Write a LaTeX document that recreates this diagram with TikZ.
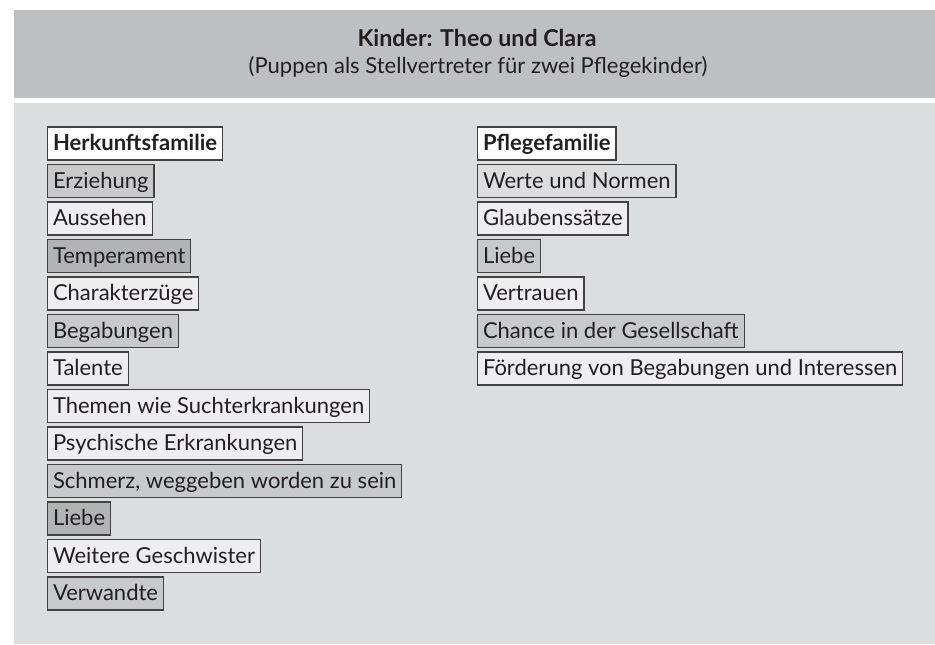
\documentclass[tikz,border=0pt]{standalone}
\usepackage{fontspec}
\setmainfont{Lato}
\usepackage{tikz}
\usetikzlibrary{positioning}

\definecolor{bandgray}{HTML}{BEBFC2}
\definecolor{bodygray}{HTML}{DCDDDF}
\definecolor{light}{HTML}{EEEEF0}
\definecolor{mid}{HTML}{C8C9CB}
\definecolor{dark}{HTML}{B2B3B6}
\definecolor{ink}{HTML}{231F20}

\tikzset{
  item/.style={draw=ink!85, line width=0.6pt, anchor=west, inner xsep=2.7pt,
    minimum height=16.5pt, text height=0.72em, text depth=0pt, text=ink},
  headitem/.style={item, fill=white, font=\fontsize{11pt}{13pt}\selectfont\bfseries},
}

\begin{document}
\begin{tikzpicture}[x=0.5pt, y=-0.5pt, font=\fontsize{11pt}{13pt}\selectfont]
\useasboundingbox (0,0) rectangle (935,644);
\fill[bandgray] (14,10) rectangle (935,98);
\fill[bodygray] (14,103) rectangle (935,644);

\node[text=ink, font=\fontsize{11.6pt}{13pt}\selectfont\bfseries, anchor=base] (title) at (477,46) {Kinder: Theo und Clara};
\node[text=ink, anchor=base] (subtitle) at (478,73) {(Puppen als Stellvertreter für zwei Pflegekinder)};

\node[headitem] (herkunft) at (47,143.5) {Herkunftsfamilie};
\node[headitem] (pflege) at (477,143.5) {Pflegefamilie};

\foreach \i/\txt/\shade in {1/Erziehung/mid, 2/Aussehen/light, 3/Temperament/dark,
    4/Charakterzüge/light, 5/Begabungen/mid, 6/Talente/light,
    7/Themen wie Suchterkrankungen/light, 8/Psychische Erkrankungen/light,
    9/{Schmerz, weggeben worden zu sein}/mid, 10/Liebe/dark,
    11/Weitere Geschwister/light, 12/Verwandte/mid} {
    \node[item, fill=\shade] (h\i) at (47,{143.5+37.5*\i}) {\txt};
}

\foreach \i/\txt/\shade in {1/Werte und Normen/bodygray, 2/Glaubenssätze/light,
    3/Liebe/mid, 4/Vertrauen/light, 5/Chance in der Gesellschaft/mid,
    6/Förderung von Begabungen und Interessen/light} {
    \node[item, fill=\shade] (p\i) at (477,{143.5+37.5*\i}) {\txt};
}
\end{tikzpicture}
\end{document}
